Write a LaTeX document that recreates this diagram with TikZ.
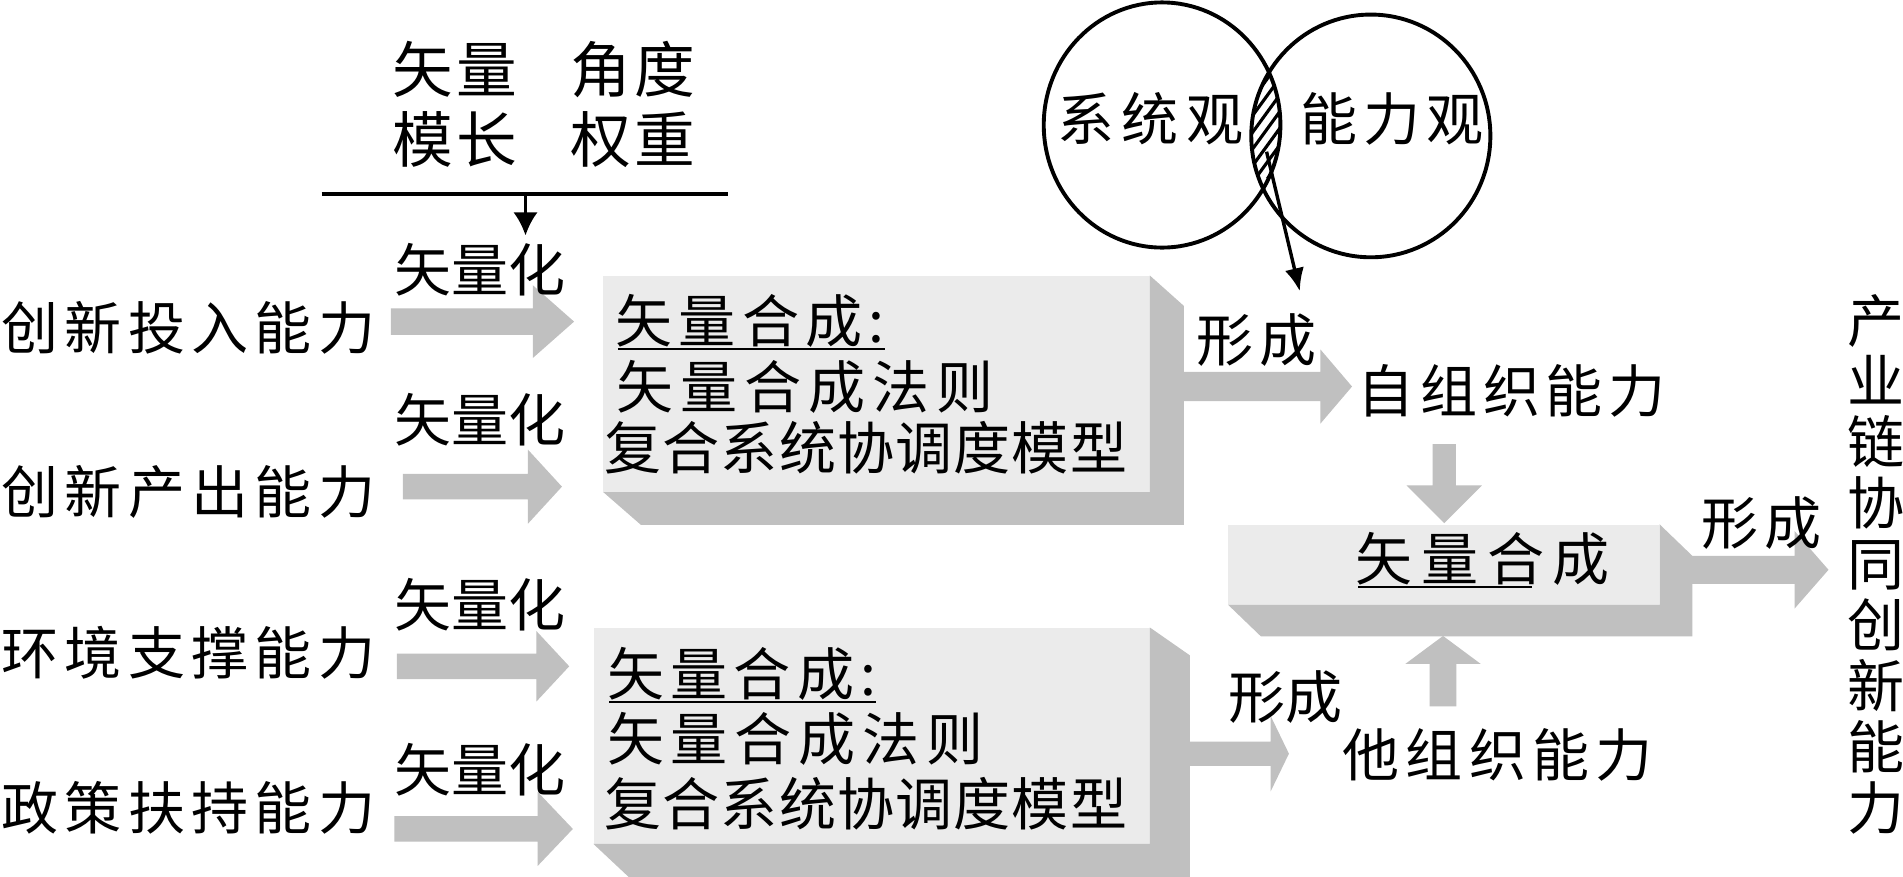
\documentclass[tikz,border=0pt]{standalone}
\usepackage{fontspec}
\newfontfamily\cjk{Noto Sans CJK SC}
\usetikzlibrary{arrows.meta,calc}
\definecolor{facegray}{HTML}{EBEBEB}
\definecolor{sidegray}{HTML}{C0C0C0}
% #1 start, #2 tip, #3 shaft half width, #4 head half width, #5 head length
\newcommand\blockarrow[5]{%
  \path (#2) coordinate (tmpT) ($(#2)!#5pt!(#1)$) coordinate (tmpB);
  \fill[sidegray] ($(#1)!#3pt!90:(tmpT)$) -- ($(tmpB)!#3pt!90:(tmpT)$) -- ($(tmpB)!#4pt!90:(tmpT)$) -- (tmpT) -- ($(tmpB)!#4pt!-90:(tmpT)$) -- ($(tmpB)!#3pt!-90:(tmpT)$) -- ($(#1)!#3pt!-90:(tmpT)$) -- cycle;}
\begin{document}
\begin{tikzpicture}[x=1pt,y=-1pt,
  txt/.style={inner sep=0pt, anchor=west},
  sp/.style={font={\cjk\fontsize{47}{50.25}\selectfont\addfontfeatures{LetterSpace=#1}}},
  spb/.style={font={\cjk\fontsize{50}{56}\selectfont\addfontfeatures{LetterSpace=#1}}},
  face/.style={fill=facegray, draw=none, inner sep=0pt, anchor=north west},
  uline/.style={line width=1.8pt},
  ring/.style={line width=3.2pt},
]
\useasboundingbox (0,0) rectangle (1568,722);
\fill[white] (0,0) rectangle (1568,722);
\clip (0,0) rectangle (1568,722);

% ---------- top attributes ----------
\node[txt, spb=6] (tA) at (323,57) {矢量};
\node[txt, spb=6] (tB) at (470,57) {角度};
\node[txt, spb=6] (tC) at (323,115) {模长};
\node[txt, spb=6] (tD) at (470,115) {权重};
\coordinate (barL) at (265,160);
\coordinate (barR) at (600,160);
\coordinate (barM) at (433,160);
\coordinate (barT) at (433,194);
\draw[line width=3.2pt] (barL) -- (barR);
\draw[line width=2.5pt, -{Latex[length=19pt,width=20pt]}] (barM) -- (barT);

% ---------- 3D boxes ----------
\node[face, minimum width=450pt, minimum height=178pt] (box1) at (497,227) {};
\fill[sidegray] (box1.north east) -- ++(28,25) -- ($(box1.south east)+(28,27)$) -- ($(box1.south west)+(31,27)$) -- (box1.south west) -- (box1.south east) -- cycle;
\node[face, minimum width=458pt, minimum height=178pt] (box2) at (489,517) {};
\fill[sidegray] (box2.north east) -- ++(33,23) -- ($(box2.south east)+(33,30)$) -- ($(box2.south west)+(32,30)$) -- (box2.south west) -- (box2.south east) -- cycle;
\node[face, minimum width=355pt, minimum height=66pt] (box3) at (1012,432) {};
\fill[sidegray] (box3.north east) -- ++(27,26) -- ($(box3.south east)+(27,26)$) -- ($(box3.south west)+(27,26)$) -- (box3.south west) -- (box3.south east) -- cycle;

% ---------- block arrows ----------
\coordinate (a1s) at (322,265); \coordinate (a1t) at (473,265);
\blockarrow{a1s}{a1t}{11}{30}{34}
\coordinate (a2s) at (332,401); \coordinate (a2t) at (463,401);
\blockarrow{a2s}{a2t}{10.5}{30.5}{28}
\coordinate (a3s) at (327,549); \coordinate (a3t) at (469,549);
\blockarrow{a3s}{a3t}{10.5}{29}{27}
\coordinate (a4s) at (325,683); \coordinate (a4t) at (472,683);
\blockarrow{a4s}{a4t}{10.5}{30.5}{29}
\coordinate (f1s) at (975,318.5); \coordinate (f1t) at (1114,318.5);
\blockarrow{f1s}{f1t}{12}{30.5}{26}
\coordinate (f2s) at (980,621); \coordinate (f2t) at (1062,621);
\blockarrow{f2s}{f2t}{10}{31}{15}
\coordinate (f3s) at (1394,469.5); \coordinate (f3t) at (1506.6,469.5);
\blockarrow{f3s}{f3t}{11.5}{32}{28}
\coordinate (dns) at (1190,366); \coordinate (dnt) at (1190,431);
\blockarrow{dns}{dnt}{9.5}{31}{31}
\coordinate (ups) at (1189,582); \coordinate (upt) at (1189,524);
\blockarrow{ups}{upt}{11}{31}{23}

% ---------- Venn ----------
\coordinate (cSys) at (957.5,103);
\coordinate (cCap) at (1129.5,112);
\begin{scope}
  \clip (cSys) ellipse [x radius=97.5, y radius=101];
  \clip (cCap) ellipse [x radius=98.5, y radius=100];
  \clip (990,30) rectangle (1100,146);
  \foreach \i in {0,...,13} \draw[line width=2.6pt] (945+\i*10,160) -- ++(80,-110);
\end{scope}
\draw[ring] (cSys) ellipse [x radius=97.5, y radius=101];
\draw[ring] (cCap) ellipse [x radius=98.5, y radius=100];
\node[txt, sp=13] (sys) at (871,98) {系统观};
\node[txt, sp=11] (cap) at (1071,98) {能力观};
\coordinate (lensP) at (1043.6,125);
\coordinate (zzT) at (1071,240);
\draw[line width=2.8pt, -{Latex[length=19pt,width=16pt]}] (lensP) -- (zzT);

% ---------- left labels ----------
\node[txt, sp=11] (in1) at (1,270) {创新投入能力};
\node[txt, sp=11] (in2) at (1,405) {创新产出能力};
\node[txt, sp=11] (in3) at (1,538) {环境支撑能力};
\node[txt, sp=11] (in4) at (1,666) {政策扶持能力};
\node[txt, sp=0] (v1) at (325,222) {矢量化};
\node[txt, sp=0] (v2) at (325,346) {矢量化};
\node[txt, sp=0] (v3) at (325,498) {矢量化};
\node[txt, sp=0] (v4) at (325,634) {矢量化};

% ---------- box texts ----------
\node[txt, sp=11] (b1a) at (507,264.5) {矢量合成:};
\node[txt, sp=12] (b1b) at (508,319) {矢量合成法则};
\node[txt, sp=2] (b1c) at (498,369) {复合系统协调度模型};
\draw[uline] ($(b1a.south west)+(2,1)$) -- ($(b1a.south west)+(222,1)$);
\node[txt, sp=11] (b2a) at (500,555) {矢量合成:};
\node[txt, sp=12] (b2b) at (500,609) {矢量合成法则};
\node[txt, sp=2] (b2c) at (498,662) {复合系统协调度模型};
\draw[uline] ($(b2a.south west)+(2,1)$) -- ($(b2a.south west)+(222,1)$);
\node[txt, sp=15] (b3) at (1117,460.5) {矢量合成};
\draw[uline] ($(b3.south west)+(2,1)$) -- ($(b3.south west)+(145,1)$);

% ---------- right texts ----------
\node[txt, sp=10] (fo1) at (986,280) {形成};
\node[txt, sp=0] (fo2) at (1012,574) {形成};
\node[txt, sp=10] (fo3) at (1402,431) {形成};
\node[txt, sp=10] (self) at (1118.5,322) {自组织能力};
\node[txt, sp=11] (other) at (1106,622) {他组织能力};
\node[inner sep=0pt, align=center, font={\cjk\fontsize{47}{50.25}\selectfont}] (chain) at (1545.6,465) {产\\业\\链\\协\\同\\创\\新\\能\\力};
\end{tikzpicture}
\end{document}
